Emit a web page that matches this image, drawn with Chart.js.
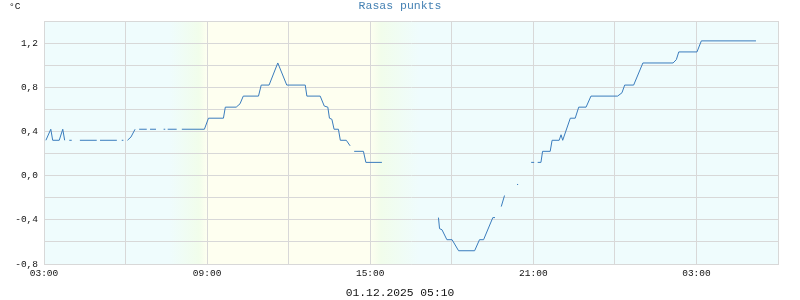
<!DOCTYPE html>
<html>
<head>
<meta charset="utf-8">
<title>Rasas punkts</title>
<script src="https://cdn.jsdelivr.net/npm/chart.js@4.4.1/dist/chart.umd.min.js"></script>
<style>
  body { margin: 0; background: #fff; }
  canvas { display: block; }
</style>
</head>
<body>
<canvas id="dew-chart" width="800" height="300"></canvas>
<script>
// hours since 03:00 on 30.11.2025, null = no reading (gap in the line)
const hours = [
  0.07, 0.25, 0.32, 0.56, 0.69, 0.76, 0.85, 0.93, 1.02, 1.15,
  1.32, 1.94, 2.0, 2.06, 2.68, 2.78, 2.86, 2.92, 3.0, 3.07,
  3.2, 3.35, 3.42, 3.5, 3.78, 3.84, 3.9, 4.12, 4.3, 4.40,
  4.46, 4.5, 4.55, 4.88, 4.98, 5.07, 5.9, 6.05, 6.6, 6.67,
  7.07, 7.21, 7.33, 7.89, 7.99, 8.28, 8.6, 8.93, 9.61, 9.67,
  10.16, 10.31, 10.44, 10.5, 10.59, 10.67, 10.83, 10.9, 11.12, 11.26,
  11.33, 11.41, 11.75, 11.84, 12.43, 13.5, 14.51, 14.55, 14.64, 14.82,
  15.01, 15.25, 15.84, 16.02, 16.17, 16.51, 16.59, 16.7, 16.82, 16.94,
  17.2, 17.40, 17.44, 17.7, 17.92, 18.03, 18.1, 18.16, 18.28, 18.34,
  18.62, 18.69, 18.95, 19.02, 19.08, 19.36, 19.54, 19.67, 19.94, 20.12,
  21.1, 21.26, 21.36, 21.69, 22.03, 23.14, 23.26, 23.35, 24.02, 24.18,
  26.19
];
const dewPoint = [
  0.32, 0.42, 0.32, 0.32, 0.42, 0.32, null, 0.32, 0.32, null,
  0.32, 0.32, null, 0.32, 0.32, null, 0.32, 0.32, null, 0.32,
  0.35, 0.42, null, 0.42, 0.42, null, 0.42, 0.42, null, 0.42,
  0.42, null, 0.42, 0.42, null, 0.42, 0.42, 0.52, 0.52, 0.62,
  0.62, 0.65, 0.72, 0.72, 0.82, 0.82, 1.02, 0.82, 0.82, 0.72,
  0.72, 0.63, 0.62, 0.52, 0.51, 0.42, 0.42, 0.32, 0.32, 0.27,
  null, 0.22, 0.22, 0.12, 0.12, null, -0.38, -0.48, -0.49, -0.58,
  -0.58, -0.68, -0.68, -0.58, -0.58, -0.38, -0.38, null, -0.28, -0.18,
  null, -0.08, -0.08, null, 0.12, 0.12, null, 0.12, 0.12, 0.22,
  0.22, 0.32, 0.32, 0.37, 0.32, 0.52, 0.52, 0.62, 0.62, 0.72,
  0.72, 0.75, 0.82, 0.82, 1.02, 1.02, 1.05, 1.12, 1.12, 1.22,
  1.22
];

const chartTitle = 'Rasas punkts';
const unitLabel = '°C';
const stampLabel = '01.12.2025 05:10';
const startHour = 3;

// day / night shading of the plot area (hours offsets)
const shadeStops = [
  [0, '#effcfd'], [4.6, '#effcfd'], [5.7, '#f1fdeb'], [6.0, '#fefff0'],
  [12.0, '#fefff0'], [12.4, '#f1fdeb'], [13.8, '#effcfd'], [27, '#effcfd']
];

const points = hours.map((h, i) => ({ x: h, y: dewPoint[i] }));

const shadePlugin = {
  id: 'shade',
  beforeDraw(chart) {
    const { ctx, chartArea: a, scales: { x } } = chart;
    const grad = ctx.createLinearGradient(a.left, 0, a.right, 0);
    shadeStops.forEach(([h, c]) => {
      const p = (x.getPixelForValue(h) - a.left) / (a.right - a.left);
      grad.addColorStop(Math.min(1, Math.max(0, p)), c);
    });
    ctx.save();
    ctx.fillStyle = grad;
    ctx.fillRect(a.left, a.top, a.right - a.left, a.bottom - a.top);
    ctx.restore();
  }
};

const textPlugin = {
  id: 'texts',
  afterDraw(chart) {
    const ctx = chart.ctx;
    ctx.save();
    ctx.textBaseline = 'middle';
    ctx.font = '11.5px "Liberation Mono", monospace';
    ctx.fillStyle = '#4682b4';
    ctx.textAlign = 'center';
    ctx.fillText(chartTitle, 400, 6);
    ctx.fillStyle = '#111';
    ctx.font = '9.5px "Liberation Mono", monospace';
    ctx.textAlign = 'left';
    ctx.fillText(unitLabel, 9, 6);
    ctx.font = '11.3px "Liberation Mono", monospace';
    ctx.textAlign = 'center';
    ctx.fillText(stampLabel, 400, 293);
    ctx.restore();
  }
};

const tickFont = { family: '"Liberation Mono", monospace', size: 9.5 };

new Chart(document.getElementById('dew-chart'), {
  type: 'line',
  data: {
    datasets: [{
      data: points,
      borderColor: '#3a7cbd',
      borderWidth: 1,
      pointRadius: 0,
      tension: 0,
      spanGaps: false
    }]
  },
  options: {
    responsive: false,
    animation: false,
    layout: { padding: { top: 21, right: 22, left: 0, bottom: 0 } },
    plugins: { legend: { display: false }, tooltip: { enabled: false } },
    scales: {
      x: {
        type: 'linear',
        min: 0,
        max: 27,
        afterFit(s) { s.height = 36; },
        grid: { color: '#d8d8d8', drawTicks: false },
        border: { color: '#d8d8d8' },
        ticks: {
          stepSize: 3,
          padding: 4,
          color: '#111',
          font: tickFont,
          maxRotation: 0,
          autoSkip: false,
          callback(v, i) {
            if (i % 2) return '';
            const h = (startHour + v) % 24;
            return String(h).padStart(2, '0') + ':00';
          }
        }
      },
      y: {
        min: -0.8,
        max: 1.4,
        afterFit(s) { s.width = 44; },
        grid: { color: '#d8d8d8', drawTicks: false },
        border: { color: '#d8d8d8' },
        ticks: {
          stepSize: 0.2,
          padding: 6,
          color: '#111',
          font: tickFont,
          autoSkip: false,
          callback(v, i) {
            if (i % 2) return '';
            return v.toFixed(1).replace('.', ',');
          }
        }
      }
    }
  },
  plugins: [shadePlugin, textPlugin]
});
</script>
</body>
</html>
